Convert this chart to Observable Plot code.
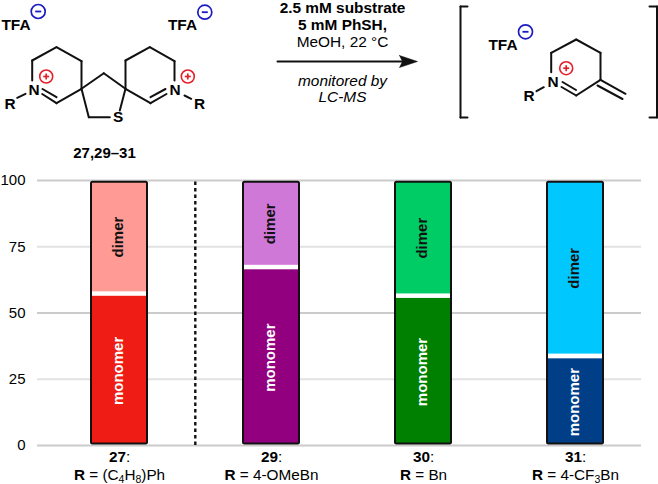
<!DOCTYPE html>
<html>
<head>
<meta charset="utf-8">
<script src="https://cdn.jsdelivr.net/npm/d3@7"></script>
<script src="https://cdn.jsdelivr.net/npm/@observablehq/plot@0.6"></script>
<style>
  html,body{margin:0;padding:0;background:#fff;}
  svg{display:block;}
</style>
</head>
<body>
<div id="chart"></div>
<script>
// ---- bar chart data ----
const compounds = ["27", "29", "30", "31"];
const rGroups = ["(C4H8)Ph", "4-OMeBn", "Bn", "4-CF3Bn"];
const monomer = [56.3, 66.3, 55.5, 32.7];
const dimerStart = [58.0, 68.0, 57.2, 34.5];
const barBottom = 0.6, barTop = 99.3;
const monomerColors = ["#ee1c14", "#920080", "#008000", "#003f87"];
const dimerColors = ["#ff9a94", "#d078d8", "#00cc66", "#00c8ff"];
const strongGrid = [0, 50, 100];
const lightGrid = [25, 75];
const yTicks = [0, 25, 50, 75, 100];

// ---- reaction scheme drawing (not chart data) ----
const bonds = [
  [31.7,80,31.7,60],[31.7,60,56,46.7],[56,46.7,81,60.7],[81,60.7,81,88.3],[81,88.3,56,102.7],
  [56,102.7,41.7,93.5],[56,96.7,42,88.5],[16.7,97.3,25,93.3],
  [81,88.3,103.3,72.7],[103.3,72.7,125,88.3],[125,88.3,119.3,110],[81,88.3,88.3,116.7],[88.3,116.7,109.3,116.7],
  [125,88.3,125,60],[125,60,149.3,46.7],[149.3,46.7,174,60.7],[174,60.7,174,80],
  [125,88.3,150,102.7],[150,102.7,166,93.5],[150,96.7,165,88.5],[184,95,190.7,98.3],
  [550.7,71.7,550.7,52.3],[550.7,52.3,575.7,39],[575.7,39,600,52.3],[600,52.3,600,79.3],[600,79.3,575.7,95],
  [575.7,95,561,86.5],[575.5,89.5,562,81.5],[600,79.3,625,93.3],[597,85,622,98.5],[536,90.7,543.3,86.7],
  [277,61,402,61],
  [467,6,460,6],[460,6,460,117],[460,117,467,117],
  [649,6,656.5,6],[656.5,6,656.5,117],[656.5,117,649,117]
];
const arrowHead = [[399,55],[417,61],[399,67],[402,61],[399,55]];
const plusCenters = [[45.7,76],[187.3,76],[565.7,67.7]];
const minusCenters = [[37.7,11],[204.3,11.7],[525,31.3]];
const boldLabels = [
  ["TFA",15.5,24.5],["TFA",182,24.5],["TFA",502.5,44.5],
  ["R",9.5,103.5],["N",33.5,89.5],["R",199,103.5],["N",174.5,89.5],["N",552.5,81.5],["R",528.5,95.5],
  ["S",117.7,117]
];
const conditionsBold = [["2.5 mM substrate",342,8],["5 mM PhSH,",342,24.5]];
const conditionsPlain = [["MeOH, 22 °C",342,42]];
const conditionsItalic = [["monitored by",342,81],["LC-MS",342,97]];
const compoundRange = [["27,29–31",104,153]];

const font = "'Liberation Sans', Arial, sans-serif";
const red = "#e3202a", blue = "#1b1bc4";
const txt = (rows, extra) => Plot.text(rows, {x:d=>d[1], y:d=>d[2], text:d=>d[0], fill:"black", fontSize:15.4, textAnchor:"middle", lineAnchor:"middle", ...extra});

const scheme = Plot.plot({
  width:658, height:170, margin:0,
  x:{type:"identity", axis:null}, y:{type:"identity", axis:null},
  style:{fontFamily:font, background:"transparent"},
  marks:[
    Plot.link(bonds,{x1:d=>d[0],y1:d=>d[1],x2:d=>d[2],y2:d=>d[3],stroke:"#111",strokeWidth:2,strokeLinecap:"round"}),
    Plot.line(arrowHead,{x:d=>d[0],y:d=>d[1],fill:"#111",stroke:"#111",strokeWidth:0.5}),
    Plot.dot(plusCenters,{x:d=>d[0],y:d=>d[1],r:6.5,stroke:red,strokeWidth:1.6,fill:"none"}),
    Plot.link(plusCenters,{x1:d=>d[0]-3,y1:d=>d[1],x2:d=>d[0]+3,y2:d=>d[1],stroke:red,strokeWidth:1.7}),
    Plot.link(plusCenters,{x1:d=>d[0],y1:d=>d[1]-3,x2:d=>d[0],y2:d=>d[1]+3,stroke:red,strokeWidth:1.7}),
    Plot.dot(minusCenters,{x:d=>d[0],y:d=>d[1],r:7,stroke:blue,strokeWidth:1.7,fill:"none"}),
    Plot.link(minusCenters,{x1:d=>d[0]-3,y1:d=>d[1],x2:d=>d[0]+3,y2:d=>d[1],stroke:blue,strokeWidth:1.8}),
    txt(boldLabels,{fontWeight:"bold"}),
    txt(conditionsBold,{fontWeight:"bold"}),
    txt(conditionsPlain,{}),
    txt(conditionsItalic,{fontStyle:"italic"}),
    txt(compoundRange,{fontWeight:"bold",fontSize:15})
  ]
});

const rows = compounds.map((c,i)=>({c, r:rGroups[i], m:monomer[i], ds:dimerStart[i], mc:monomerColors[i], dc:dimerColors[i]}));

const chart = Plot.plot({
  width:658, height:314, marginLeft:37, marginRight:17, marginTop:10, marginBottom:39,
  x:{type:"band", domain:compounds, range:[42,652], paddingInner:0.633, paddingOuter:0.3165, align:0.5, axis:null},
  y:{domain:[0,100], range:[275,10], axis:null},
  color:{type:"identity"},
  style:{fontFamily:font, fontSize:"15px", background:"transparent", overflow:"visible"},
  marks:[
    Plot.ruleY(strongGrid,{stroke:"#cbcbcb",strokeWidth:2}),
    Plot.ruleY(lightGrid,{stroke:"#e2e2e2",strokeWidth:2}),
    Plot.axisY({ticks:yTicks,tickSize:0,tickPadding:12,fontSize:15,fill:"black",label:null}),
    Plot.ruleX(["27"],{x:d=>d,y1:0,y2:100,dx:75.8,stroke:"#111",strokeWidth:2.4,strokeDasharray:"3.5,3"}),
    Plot.barY(rows,{x:"c",y1:barBottom,y2:barTop,fill:"white",rx:1.5}),
    Plot.barY(rows,{x:"c",y1:barBottom,y2:"m",fill:"mc"}),
    Plot.barY(rows,{x:"c",y1:"ds",y2:barTop,fill:"dc"}),
    Plot.barY(rows,{x:"c",y1:barBottom,y2:barTop,fill:"none",stroke:"#111",strokeWidth:2,rx:1.5}),
    Plot.text(rows,{x:"c",y:d=>d.m/2,text:()=>"monomer",rotate:-90,fill:"white",fontWeight:"bold",fontSize:15,dx:-1}),
    Plot.text(rows,{x:"c",y:d=>(d.ds+barTop)/2,text:()=>"dimer",rotate:-90,fill:"#111",fontWeight:"bold",fontSize:15,dx:-1}),
    Plot.text(rows,{x:"c",y:0,text:"c",dy:12,fontSize:15.3,fill:"black",className:"cmpd"}),
    Plot.text(rows,{x:"c",y:0,text:"r",dy:30,fontSize:15.3,fill:"black",className:"rgrp"})
  ]
});

document.getElementById("chart").append(scheme, chart);

// Rich text in the category labels: bold numbers, bold R, real subscripts
const ns = "http://www.w3.org/2000/svg";
const span = (el, s, attrs={}) => { const t=document.createElementNS(ns,"tspan"); t.textContent=s;
  for (const k in attrs) t.setAttribute(k,attrs[k]); el.appendChild(t); };
chart.querySelectorAll("g.cmpd text").forEach(t=>{ const s=t.textContent; t.textContent="";
  span(t,s,{"font-weight":"bold"}); span(t,":"); });
chart.querySelectorAll("g.rgrp text").forEach(t=>{ const s=t.textContent; t.textContent="";
  span(t,"R",{"font-weight":"bold"}); span(t," = ");
  s.split(/(?<=[CHF])(\d)/).forEach((p,i)=>{ if(i%2===1){ span(t,p,{"font-size":"10.5","dy":"3"}); }
    else if(p){ span(t,p, i>0?{"dy":"-3"}:{}); } });
});
</script>
</body>
</html>
